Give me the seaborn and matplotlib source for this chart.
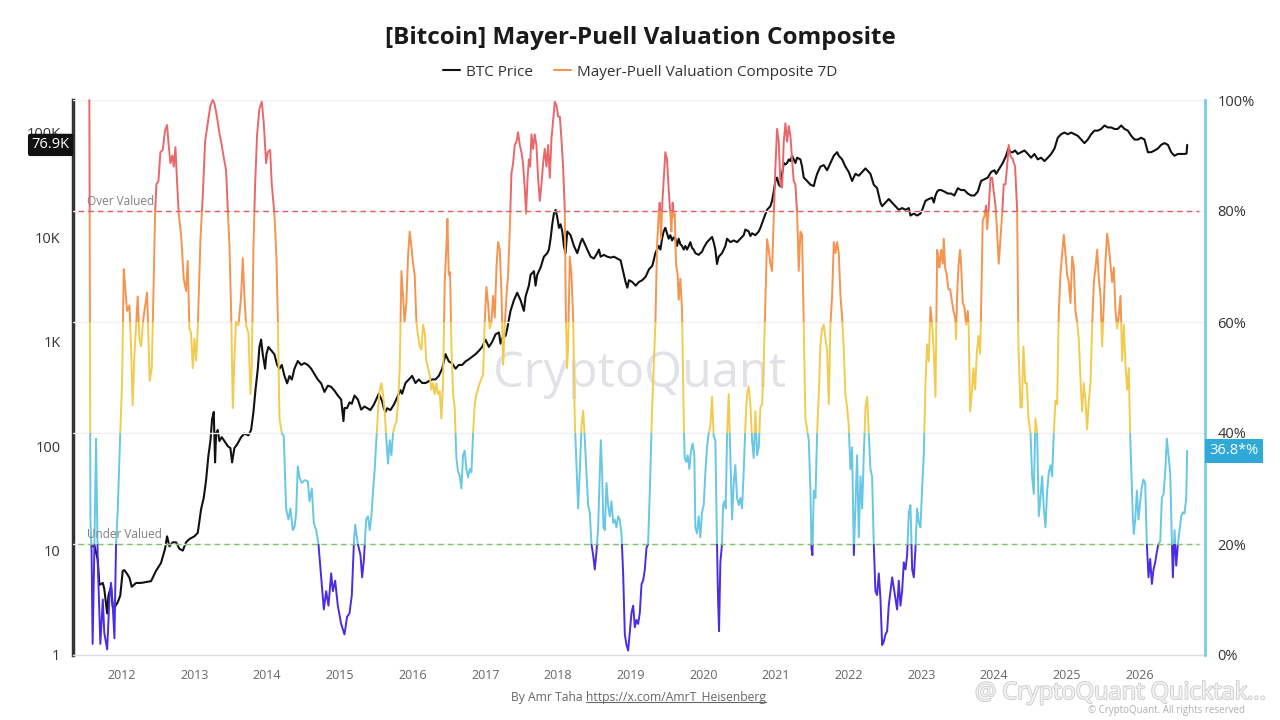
import numpy as np
import pandas as pd
import seaborn as sns
import matplotlib
matplotlib.use("Agg")
import matplotlib.pyplot as plt
from matplotlib.patches import Rectangle
from matplotlib.lines import Line2D
from matplotlib.ticker import FixedLocator, NullLocator, FixedFormatter
import matplotlib.patheffects as pe
import matplotlib.transforms as mtransforms

# BTC price (USD), dates as decimal years
price_years = [
    2011.60, 2011.624, 2011.67, 2011.693, 2011.74, 2011.76, 2011.80, 2011.817, 2011.853, 2011.876,
    2011.908, 2011.945, 2011.98, 2012.014, 2012.037, 2012.073, 2012.106, 2012.138, 2012.197, 2012.266,
    2012.335, 2012.404, 2012.472, 2012.54, 2012.596, 2012.624, 2012.656, 2012.702, 2012.748, 2012.794,
    2012.84, 2012.885, 2012.931, 2013.0, 2013.046, 2013.092, 2013.128, 2013.16, 2013.193, 2013.22,
    2013.243, 2013.266, 2013.284, 2013.298, 2013.321, 2013.344, 2013.376, 2013.413, 2013.459, 2013.495,
    2013.518, 2013.55, 2013.587, 2013.642, 2013.688, 2013.743, 2013.78, 2013.812, 2013.84, 2013.872,
    2013.894, 2013.917, 2013.94, 2013.972, 2013.99, 2014.018, 2014.055, 2014.10, 2014.138, 2014.17,
    2014.202, 2014.239, 2014.275, 2014.307, 2014.34, 2014.376, 2014.422, 2014.468, 2014.514, 2014.56,
    2014.606, 2014.651, 2014.697, 2014.743, 2014.789, 2014.835, 2014.881, 2014.927, 2014.972, 2015.018,
    2015.05, 2015.064, 2015.10, 2015.133, 2015.165, 2015.202, 2015.248, 2015.294, 2015.34, 2015.376,
    2015.42, 2015.468, 2015.513, 2015.536, 2015.56, 2015.582, 2015.605, 2015.628, 2015.651, 2015.697,
    2015.743, 2015.789, 2015.835, 2015.857, 2015.903, 2015.95, 2015.995, 2016.04, 2016.087, 2016.133,
    2016.18, 2016.225, 2016.27, 2016.316, 2016.362, 2016.408, 2016.454, 2016.477, 2016.5, 2016.546,
    2016.591, 2016.637, 2016.683, 2016.729, 2016.775, 2016.82, 2016.867, 2016.913, 2016.958, 2017.004,
    2017.05, 2017.096, 2017.142, 2017.188, 2017.211, 2017.234, 2017.28, 2017.302, 2017.348, 2017.394,
    2017.44, 2017.486, 2017.532, 2017.555, 2017.60, 2017.624, 2017.67, 2017.692, 2017.715, 2017.761,
    2017.807, 2017.853, 2017.876, 2017.899, 2017.922, 2017.945, 2017.968, 2017.99, 2018.014, 2018.036,
    2018.06, 2018.082, 2018.105, 2018.128, 2018.174, 2018.22, 2018.266, 2018.312, 2018.335, 2018.358,
    2018.403, 2018.45, 2018.495, 2018.54, 2018.564, 2018.587, 2018.633, 2018.679, 2018.725, 2018.77,
    2018.816, 2018.862, 2018.885, 2018.93, 2018.954, 2018.977, 2019.023, 2019.069, 2019.114, 2019.16,
    2019.206, 2019.252, 2019.298, 2019.317, 2019.34, 2019.363, 2019.386, 2019.41, 2019.432, 2019.454,
    2019.477, 2019.50, 2019.523, 2019.546, 2019.57, 2019.592, 2019.615, 2019.638, 2019.661, 2019.684,
    2019.707, 2019.73, 2019.753, 2019.776, 2019.80, 2019.821, 2019.844, 2019.867, 2019.89, 2019.936,
    2019.959, 2019.982, 2020.005, 2020.05, 2020.097, 2020.12, 2020.142, 2020.165, 2020.188, 2020.211,
    2020.234, 2020.257, 2020.303, 2020.326, 2020.372, 2020.418, 2020.464, 2020.51, 2020.555, 2020.578,
    2020.624, 2020.647, 2020.67, 2020.716, 2020.762, 2020.785, 2020.83, 2020.876, 2020.922, 2020.945,
    2020.968, 2020.991, 2021.014, 2021.037, 2021.06, 2021.083, 2021.106, 2021.129, 2021.152, 2021.175,
    2021.198, 2021.22, 2021.243, 2021.266, 2021.29, 2021.335, 2021.358, 2021.381, 2021.427, 2021.473,
    2021.519, 2021.542, 2021.565, 2021.61, 2021.656, 2021.702, 2021.748, 2021.794, 2021.84, 2021.863,
    2021.909, 2021.954, 2022.0, 2022.046, 2022.092, 2022.138, 2022.184, 2022.23, 2022.275, 2022.298,
    2022.344, 2022.39, 2022.436, 2022.459, 2022.505, 2022.55, 2022.597, 2022.642, 2022.688, 2022.734,
    2022.78, 2022.826, 2022.849, 2022.895, 2022.94, 2022.986, 2023.01, 2023.055, 2023.10, 2023.147,
    2023.17, 2023.193, 2023.216, 2023.239, 2023.27, 2023.316, 2023.362, 2023.407, 2023.453, 2023.50,
    2023.545, 2023.59, 2023.637, 2023.683, 2023.729, 2023.775, 2023.82, 2023.866, 2023.912, 2023.958,
    2024.004, 2024.027, 2024.073, 2024.118, 2024.164, 2024.196, 2024.224, 2024.256, 2024.288, 2024.325,
    2024.37, 2024.417, 2024.463, 2024.508, 2024.554, 2024.60, 2024.646, 2024.692, 2024.738, 2024.784,
    2024.83, 2024.875, 2024.921, 2024.967, 2025.013, 2025.059, 2025.105, 2025.15, 2025.197, 2025.242,
    2025.288, 2025.334, 2025.38, 2025.426, 2025.472, 2025.518, 2025.564, 2025.61, 2025.655, 2025.70,
    2025.747, 2025.793, 2025.839, 2025.885, 2025.93, 2025.976, 2026.022, 2026.068, 2026.114, 2026.16,
    2026.206, 2026.252, 2026.297, 2026.343, 2026.39, 2026.435, 2026.48, 2026.527, 2026.573, 2026.618,
    2026.646, 2026.655,
]
price_usd = [
    11, 11.2, 8.2, 4.7, 4.9, 4.3, 2.5, 3.7, 4.5, 2.9,
    2.9, 3.2, 3.7, 6.4, 6.5, 6.0, 5.5, 4.5, 4.9, 4.9,
    5.0, 5.1, 6.4, 7.6, 10.4, 13.7, 11, 12, 12, 10.4,
    10, 12, 12.9, 13.7, 14.8, 25, 32, 47, 82, 112,
    182, 213, 70, 132, 143, 112, 122, 112, 100, 96,
    70, 96, 104, 122, 132, 127, 143, 213, 346, 553,
    891, 1050, 760, 553, 760, 891, 830, 760, 600, 553,
    600, 470, 400, 470, 435, 553, 655, 600, 625, 600,
    553, 490, 435, 400, 331, 380, 370, 340, 306, 280,
    174, 232, 232, 263, 255, 306, 280, 224, 240, 232,
    222, 250, 293, 318, 293, 270, 231, 213, 231, 222,
    250, 293, 344, 318, 403, 436, 472, 403, 436, 403,
    403, 420, 436, 436, 472, 553, 762, 700, 649, 620,
    553, 600, 600, 649, 680, 720, 762, 820, 893, 1047,
    893, 1000, 1180, 1227, 960, 1090, 1140, 1330, 1977, 2500,
    2950, 2500, 1977, 2720, 3450, 4385, 4750, 3450, 4385, 5140,
    6530, 7063, 7650, 9720, 13360, 17000, 18360, 15660, 12350, 13360,
    11400, 8280, 7063, 11400, 10500, 8280, 7063, 9000, 9720, 9000,
    7650, 6530, 6270, 7063, 7650, 6530, 6800, 6530, 6400, 6530,
    6270, 6025, 5140, 3740, 3300, 3890, 3740, 3450, 3740, 3890,
    4200, 4940, 5350, 6025, 7063, 7650, 8280, 7650, 9720, 11400,
    12350, 10950, 9720, 10500, 9350, 10000, 9720, 8280, 9720, 8600,
    8280, 7650, 8280, 7650, 8280, 9000, 7950, 7650, 7063, 6800,
    7063, 7300, 7950, 9000, 9720, 10100, 9000, 7650, 5560, 6530,
    6800, 7063, 8280, 9720, 9000, 9350, 9000, 9720, 10500, 11900,
    11400, 10300, 10950, 10500, 11400, 12350, 15100, 18360, 19900, 22400,
    27450, 34700, 37400, 32000, 30800, 40650, 51600, 50000, 51600, 55850,
    53800, 60500, 55850, 51600, 58000, 55850, 47650, 37400, 34700, 32000,
    31000, 36000, 40650, 47650, 49300, 44000, 51600, 60500, 65460, 60500,
    55850, 47650, 42300, 34700, 40650, 39000, 42300, 45800, 42300, 40650,
    32000, 29580, 21530, 19900, 21530, 23300, 21530, 19900, 18360, 19100,
    18360, 19100, 16200, 16900, 16200, 16900, 18360, 22400, 23300, 24000,
    21530, 25200, 27450, 28400, 28400, 27450, 26300, 26300, 25200, 29580,
    28400, 28400, 26300, 25200, 25200, 27450, 34700, 36000, 37400, 42300,
    44000, 40650, 45800, 51600, 60500, 70950, 65460, 65460, 68000, 63000,
    65460, 68000, 63000, 58000, 63000, 55850, 58000, 53800, 58000, 63000,
    70950, 90000, 97300, 101000, 97300, 101000, 97300, 94000, 86500, 80000,
    86500, 97300, 105400, 105400, 109300, 118000, 113000, 113000, 109300, 109300,
    118000, 109300, 105400, 94000, 86500, 86500, 90000, 86500, 65460, 65460,
    68000, 70950, 77000, 80000, 77000, 65460, 60500, 63000, 63000, 63000,
    63500, 76900,
]

# Mayer-Puell Valuation Composite 7D (%)
mpvc_years = [
    2011.555, 2011.57, 2011.585, 2011.60, 2011.625, 2011.647, 2011.67, 2011.706, 2011.74, 2011.76,
    2011.80, 2011.83, 2011.853, 2011.876, 2011.90, 2011.922, 2011.945, 2011.98, 2012.005, 2012.028,
    2012.046, 2012.073, 2012.106, 2012.128, 2012.151, 2012.174, 2012.197, 2012.22, 2012.243, 2012.266,
    2012.289, 2012.312, 2012.349, 2012.367, 2012.385, 2012.413, 2012.431, 2012.459, 2012.477, 2012.505,
    2012.532, 2012.564, 2012.596, 2012.624, 2012.642, 2012.67, 2012.697, 2012.716, 2012.739, 2012.761,
    2012.784, 2012.817, 2012.853, 2012.885, 2012.908, 2012.931, 2012.954, 2012.977, 2013.0, 2013.023,
    2013.046, 2013.083, 2013.115, 2013.147, 2013.183, 2013.22, 2013.252, 2013.275, 2013.312, 2013.344,
    2013.367, 2013.404, 2013.436, 2013.459, 2013.482, 2013.505, 2013.528, 2013.55, 2013.573, 2013.606,
    2013.642, 2013.665, 2013.688, 2013.711, 2013.743, 2013.771, 2013.789, 2013.812, 2013.835, 2013.862,
    2013.894, 2013.927, 2013.954, 2013.986, 2014.009, 2014.041, 2014.064, 2014.10, 2014.128, 2014.147,
    2014.17, 2014.202, 2014.229, 2014.261, 2014.294, 2014.321, 2014.353, 2014.376, 2014.399, 2014.422,
    2014.445, 2014.477, 2014.514, 2014.56, 2014.583, 2014.615, 2014.642, 2014.674, 2014.706, 2014.743,
    2014.78, 2014.812, 2014.844, 2014.881, 2014.904, 2014.936, 2014.972, 2015.018, 2015.064, 2015.10,
    2015.133, 2015.165, 2015.193, 2015.211, 2015.248, 2015.284, 2015.307, 2015.33, 2015.362, 2015.388,
    2015.411, 2015.434, 2015.457, 2015.48, 2015.503, 2015.525, 2015.548, 2015.571, 2015.594, 2015.617,
    2015.64, 2015.663, 2015.686, 2015.709, 2015.732, 2015.755, 2015.778, 2015.80, 2015.824, 2015.847,
    2015.87, 2015.89, 2015.915, 2015.938, 2015.961, 2015.984, 2016.007, 2016.03, 2016.053, 2016.076,
    2016.099, 2016.122, 2016.145, 2016.168, 2016.19, 2016.214, 2016.236, 2016.259, 2016.282, 2016.305,
    2016.328, 2016.351, 2016.374, 2016.397, 2016.42, 2016.443, 2016.466, 2016.48, 2016.498, 2016.516,
    2016.535, 2016.558, 2016.58, 2016.603, 2016.626, 2016.649, 2016.672, 2016.695, 2016.718, 2016.741,
    2016.764, 2016.787, 2016.81, 2016.833, 2016.856, 2016.879, 2016.925, 2016.947, 2016.97, 2016.993,
    2017.016, 2017.039, 2017.062, 2017.085, 2017.108, 2017.131, 2017.154, 2017.177, 2017.20, 2017.223,
    2017.246, 2017.269, 2017.292, 2017.314, 2017.337, 2017.36, 2017.383, 2017.406, 2017.429, 2017.452,
    2017.475, 2017.498, 2017.52, 2017.544, 2017.562, 2017.58, 2017.60, 2017.617, 2017.636, 2017.658,
    2017.681, 2017.704, 2017.727, 2017.75, 2017.773, 2017.796, 2017.819, 2017.842, 2017.865, 2017.888,
    2017.911, 2017.934, 2017.957, 2017.98, 2018.003, 2018.026, 2018.048, 2018.071, 2018.094, 2018.108,
    2018.126, 2018.14, 2018.163, 2018.186, 2018.209, 2018.232, 2018.255, 2018.278, 2018.30, 2018.324,
    2018.347, 2018.37, 2018.392, 2018.415, 2018.438, 2018.461, 2018.484, 2018.507, 2018.53, 2018.553,
    2018.576, 2018.59, 2018.608, 2018.626, 2018.645, 2018.668, 2018.69, 2018.713, 2018.736, 2018.76,
    2018.782, 2018.805, 2018.828, 2018.85, 2018.874, 2018.897, 2018.92, 2018.943, 2018.966, 2018.989,
    2019.012, 2019.035, 2019.058, 2019.08, 2019.103, 2019.126, 2019.15, 2019.172, 2019.195, 2019.218,
    2019.24, 2019.264, 2019.294, 2019.317, 2019.34, 2019.363, 2019.386, 2019.40, 2019.418, 2019.436,
    2019.454, 2019.477, 2019.50, 2019.523, 2019.546, 2019.56, 2019.578, 2019.592, 2019.606, 2019.624,
    2019.647, 2019.661, 2019.684, 2019.707, 2019.73, 2019.743, 2019.766, 2019.785, 2019.808, 2019.83,
    2019.854, 2019.876, 2019.89, 2019.913, 2019.936, 2019.959, 2019.982, 2020.005, 2020.028, 2020.05,
    2020.074, 2020.097, 2020.12, 2020.142, 2020.165, 2020.188, 2020.202, 2020.216, 2020.234, 2020.257,
    2020.271, 2020.29, 2020.308, 2020.326, 2020.349, 2020.372, 2020.395, 2020.418, 2020.44, 2020.464,
    2020.487, 2020.51, 2020.532, 2020.555, 2020.578, 2020.601, 2020.624, 2020.647, 2020.67, 2020.693,
    2020.716, 2020.739, 2020.762, 2020.785, 2020.808, 2020.83, 2020.853, 2020.876, 2020.90, 2020.922,
    2020.945, 2020.968, 2020.991, 2021.014, 2021.037, 2021.06, 2021.083, 2021.106, 2021.129, 2021.152,
    2021.175, 2021.198, 2021.22, 2021.243, 2021.266, 2021.29, 2021.312, 2021.335, 2021.358, 2021.381,
    2021.404, 2021.427, 2021.45, 2021.473, 2021.487, 2021.50, 2021.519, 2021.542, 2021.565, 2021.588,
    2021.61, 2021.633, 2021.656, 2021.68, 2021.702, 2021.725, 2021.748, 2021.771, 2021.794, 2021.817,
    2021.84, 2021.863, 2021.886, 2021.909, 2021.932, 2021.954, 2021.977, 2022.0, 2022.023, 2022.046,
    2022.07, 2022.092, 2022.115, 2022.138, 2022.161, 2022.184, 2022.207, 2022.23, 2022.253, 2022.275,
    2022.298, 2022.321, 2022.344, 2022.367, 2022.39, 2022.413, 2022.436, 2022.459, 2022.482, 2022.505,
    2022.528, 2022.55, 2022.574, 2022.597, 2022.62, 2022.642, 2022.665, 2022.688, 2022.711, 2022.734,
    2022.757, 2022.78, 2022.803, 2022.826, 2022.849, 2022.872, 2022.895, 2022.918, 2022.94, 2022.964,
    2022.986, 2023.01, 2023.032, 2023.055, 2023.078, 2023.10, 2023.124, 2023.147, 2023.17, 2023.193,
    2023.216, 2023.239, 2023.247, 2023.27, 2023.293, 2023.307, 2023.325, 2023.348, 2023.371, 2023.394,
    2023.417, 2023.44, 2023.463, 2023.476, 2023.49, 2023.508, 2023.531, 2023.545, 2023.568, 2023.591,
    2023.614, 2023.637, 2023.65, 2023.669, 2023.692, 2023.715, 2023.738, 2023.761, 2023.784, 2023.807,
    2023.82, 2023.843, 2023.866, 2023.889, 2023.903, 2023.921, 2023.949, 2023.972, 2023.995, 2024.018,
    2024.04, 2024.063, 2024.086, 2024.11, 2024.132, 2024.155, 2024.178, 2024.20, 2024.224, 2024.256,
    2024.288, 2024.316, 2024.334, 2024.362, 2024.38, 2024.403, 2024.426, 2024.449, 2024.472, 2024.50,
    2024.522, 2024.545, 2024.568, 2024.591, 2024.614, 2024.637, 2024.66, 2024.683, 2024.706, 2024.729,
    2024.752, 2024.775, 2024.797, 2024.82, 2024.843, 2024.866, 2024.889, 2024.912, 2024.935, 2024.958,
    2024.98, 2025.004, 2025.027, 2025.05, 2025.073, 2025.096, 2025.118, 2025.141, 2025.164, 2025.187,
    2025.21, 2025.233, 2025.256, 2025.279, 2025.302, 2025.325, 2025.348, 2025.371, 2025.394, 2025.417,
    2025.44, 2025.463, 2025.485, 2025.508, 2025.531, 2025.554, 2025.577, 2025.60, 2025.623, 2025.646,
    2025.669, 2025.692, 2025.715, 2025.738, 2025.76, 2025.784, 2025.806, 2025.83, 2025.852, 2025.87,
    2025.884, 2025.907, 2025.92, 2025.94, 2025.963, 2025.985, 2026.008, 2026.031, 2026.054, 2026.077,
    2026.10, 2026.123, 2026.146, 2026.169, 2026.192, 2026.215, 2026.238, 2026.26, 2026.284, 2026.307,
    2026.33, 2026.352, 2026.375, 2026.398, 2026.421, 2026.444, 2026.458, 2026.481, 2026.504, 2026.527,
    2026.55, 2026.573, 2026.596, 2026.618, 2026.642, 2026.655,
]
mpvc_pct = [
    100, 24, 19, 2, 20, 39, 17, 2, 10, 4,
    1, 10, 13, 9, 3, 20, 26, 40, 49, 69.5,
    66.6, 62, 63, 55.6, 45, 54, 59, 64.6, 57, 55.6,
    59.5, 62, 65.3, 57, 49.4, 51.7, 62, 79.5, 84.8, 85.4,
    90.6, 91, 94.5, 95.5, 92.5, 88.6, 90, 88, 91.5, 85.4,
    79.5, 75.7, 67.8, 65.6, 71, 58.8, 58, 51.7, 57, 53,
    58.8, 75, 82.8, 92.5, 95.8, 99, 100, 99.4, 96.8, 94,
    92.5, 89.6, 87.3, 80.2, 73.8, 62, 44.5, 53.6, 60, 59.4,
    64.6, 71.5, 64.6, 59.4, 58, 47, 52, 73.7, 84.8, 93.8,
    98.4, 99.7, 95.8, 88.6, 90.6, 91, 84.8, 79.5, 71.8, 60.8,
    42.6, 40, 39.4, 26.4, 24.4, 26.4, 22.5, 23, 25.5, 34,
    32, 31, 31.5, 31.3, 27.7, 30, 23.8, 22.5, 20, 14,
    8.2, 11.5, 8.9, 14.7, 11.5, 13.4, 8.9, 5.6, 3.7, 6.9,
    7.5, 10.8, 20, 23.5, 20, 18, 14, 17, 24.4, 25,
    22.5, 25, 29.6, 33.5, 38.7, 43.9, 47.8, 49, 47, 44,
    38.7, 34.5, 38.7, 36, 40, 41.3, 42, 45.2, 51.7, 69.2,
    64.7, 60, 63.4, 71.8, 76.3, 73.7, 70.5, 68.5, 60, 57.5,
    55.6, 55, 59.5, 58, 53, 51.7, 50.4, 47.8, 49, 47,
    49, 47, 47.5, 42.6, 49, 67.3, 73.7, 78.6, 68.5, 69,
    55.6, 47, 44.6, 35.5, 33, 32.3, 30, 36, 36.8, 33.5,
    32, 33.5, 32.9, 40, 45.2, 47, 49, 49.8, 50.4, 60,
    66.3, 63.4, 58.8, 60, 64.7, 60.8, 69.8, 74.4, 73, 65.3,
    52.3, 59.5, 64.7, 68.5, 76.3, 86.7, 88.6, 91.9, 92.5, 94.2,
    91.9, 90.6, 88.6, 84, 79.5, 85.4, 89.3, 88, 93.8, 91.2,
    93.8, 91.9, 86, 81.8, 84.8, 88.6, 91.2, 88, 91.9, 86,
    93, 96.4, 99.7, 99, 97, 97, 93, 88, 80.2, 62,
    51.7, 55.6, 71.8, 68.5, 60.8, 42, 34.2, 26.4, 32.9, 41.3,
    44, 38.7, 32.9, 27, 25.7, 20, 18, 15.4, 18.6, 23,
    32.9, 38.7, 32.9, 23, 22.5, 31, 27, 25, 27.7, 23.8,
    24.4, 23, 25, 24.4, 21.8, 14.7, 3.7, 1.8, 0.8, 4.3,
    7.6, 8.9, 5, 6.3, 5.6, 7.6, 12.8, 13.4, 15.4, 19.3,
    20, 29.6, 44, 51.7, 59.5, 73.7, 79.5, 81.5, 75, 81.5,
    85.4, 90.6, 89.3, 84, 79.5, 76.3, 81.5, 79, 79.5, 70.5,
    68.5, 64, 67.8, 62, 42.6, 35.5, 34.8, 36, 33.5, 36.8,
    38.1, 36, 23, 21.9, 25, 21.2, 25.7, 27, 32.9, 37.4,
    40, 41.3, 46.5, 39.4, 38.7, 20, 10.2, 4.3, 16.7, 20,
    27, 27.7, 26.4, 39.4, 47, 36, 24.4, 31, 34.2, 28.3,
    27, 28.3, 26.4, 33, 41.3, 47, 48.4, 45.2, 38.7, 35.5,
    43.9, 36, 37.4, 44.6, 45.2, 52.3, 63.4, 74.9, 73, 70.5,
    69.2, 78.3, 88, 94.8, 92.5, 84.8, 84.2, 92.5, 95.8, 92.5,
    95.3, 93.5, 89.3, 85.4, 84.8, 79.5, 69.2, 76.3, 75.7, 58.8,
    42.6, 40.7, 38.7, 29.6, 19.3, 18, 29.6, 28.3, 40, 47,
    56, 58.8, 59.5, 57, 55, 45.2, 59.5, 64.7, 74.4, 72.4,
    74.4, 72.4, 64.7, 60.8, 55, 47, 44.6, 41.3, 33.5, 37.4,
    18, 27, 36, 21.2, 32.2, 26.4, 36, 44.6, 46.5, 40,
    33.5, 32.2, 20, 11.5, 10.8, 14.7, 10.2, 1.8, 2.4, 3.7,
    4.3, 8.9, 11.5, 14, 12.1, 10.2, 8.2, 13.4, 8.9, 11.5,
    16.7, 15.4, 18, 25.7, 27, 15.4, 14, 19.3, 26.4, 23.8,
    23, 30.3, 36, 49, 56, 52.9, 62.7, 59.5, 54.3, 46.5,
    73, 71, 69.8, 73, 70.5, 75, 69.8, 68.5, 65.9, 65.9,
    64, 62, 60.8, 56.9, 64.7, 69.8, 73, 70.5, 63.4, 62.7,
    59.5, 62, 58.8, 43.9, 47, 51.7, 47.8, 54.3, 57.5, 54.3,
    62, 78.3, 79, 81, 76.7, 79.5, 86, 86, 83.4, 81,
    76.3, 70.5, 75, 79.5, 84.8, 84.8, 88, 91.9, 89.9, 89.3,
    88, 80.2, 55.6, 44.6, 44.6, 55.6, 49, 49, 42.6, 40,
    32.2, 29, 42.6, 40, 25, 28.3, 32.2, 26.4, 23, 29.6,
    32.9, 34.2, 32.2, 40, 45.8, 45.2, 62, 68.5, 72.4, 75.7,
    72.4, 68.5, 67.2, 63.4, 71.8, 69.8, 62, 60, 56.9, 49.8,
    43.9, 49, 45.8, 40.7, 45.8, 49, 59.5, 67.2, 69.8, 73,
    67.8, 64.7, 55.6, 63.4, 71, 75.9, 73.6, 70.5, 67.2, 69.8,
    62, 58.8, 61.3, 64.7, 53, 59.5, 52.3, 47.8, 51.7, 40,
    34.2, 25, 21.8, 24.4, 29.6, 24.4, 27.5, 30.3, 31.6, 31,
    20, 14, 17.3, 12.8, 15.4, 16.7, 18.6, 20, 20.5, 28.3,
    29, 32.9, 39, 36, 32.9, 20.6, 14, 22.5, 16.1, 20,
    22.5, 25, 25.7, 25.5, 28.3, 36.8,
]

year_ticks = list(range(2012, 2027))
price_ticks = [1, 10, 100, 1000, 10000, 100000]
price_tick_labels = ["1", "10", "100", "1K", "10K", "100K"]
pct_ticks = [0, 20, 40, 60, 80, 100]

# colour zones of the composite line: (low, high, colour)
zones = [(-10, 20, "#4a2ce6"), (20, 40, "#68c7e6"), (40, 60, "#f2cb4e"),
         (60, 80, "#f4944f"), (80, 120, "#e8686a")]

price_df = pd.DataFrame({"year": price_years, "price": price_usd})
mpvc_df = pd.DataFrame({"year": mpvc_years, "pct": mpvc_pct})

sns.set_style("white")
plt.rcParams["font.family"] = ["Open Sans", "DejaVu Sans"]

fig = plt.figure(figsize=(12.8, 7.2), dpi=100)
ax = fig.add_axes([73 / 1280, 65 / 720, 1132 / 1280, 555 / 720])
ax2 = ax.twinx()

# watermark behind everything
ax.text(0.5, 0.505, "CryptoQuant", transform=ax.transAxes, ha="center", va="center",
        fontsize=35, color="#e1e1e8", zorder=0)

sns.lineplot(data=price_df, x="year", y="price", ax=ax, color="#111111", lw=1.5,
             estimator=None, sort=False, zorder=3)
ax.set_yscale("log")
ax.set_ylim(1, 10 ** 5.316)
ax.set_xlim(2011.33, 2026.9)
ax.yaxis.set_major_locator(FixedLocator(price_ticks))
ax.yaxis.set_major_formatter(FixedFormatter(price_tick_labels))
ax.yaxis.set_minor_locator(NullLocator())
ax.set_xticks(year_ticks)
ax.set_xticklabels([str(y) for y in year_ticks])
ax.set_xlabel("")
ax.set_ylabel("")
ax.tick_params(axis="y", length=0, pad=9, labelsize=10.5, labelcolor="#333333")
ax.tick_params(axis="x", length=7, width=1, color="#ccd6eb", labelcolor="#666666",
               labelsize=9, pad=3)
for side in ["top", "right"]:
    ax.spines[side].set_visible(False)
ax.spines["left"].set_color("#333333")
ax.spines["left"].set_linewidth(2.5)
ax.spines["bottom"].set_color("#d8dde8")
ax.spines["bottom"].set_linewidth(1)

# composite line, one pass per colour zone, clipped to its band
for lo, hi, col in zones:
    sns.lineplot(data=mpvc_df, x="year", y="pct", ax=ax2, color=col, lw=1.4,
                 estimator=None, sort=False)
    band = Rectangle((2000, lo), 40, hi - lo, transform=ax2.transData)
    ax2.lines[-1].set_clip_path(band)

ax2.set_ylim(0, 100)
ax2.set_yticks(pct_ticks)
ax2.set_yticklabels([f"{p}%" for p in pct_ticks])
ax2.set_ylabel("")
ax2.tick_params(axis="y", length=0, pad=9, labelsize=10.5, labelcolor="#333333")
ax2.grid(axis="y", color="#f0f0f0", lw=1)
ax2.set_axisbelow(True)
for side in ["top", "left", "bottom"]:
    ax2.spines[side].set_visible(False)
ax2.spines["right"].set_color("#77cde8")
ax2.spines["right"].set_linewidth(2)

# valuation thresholds
ax2.axhline(80, xmin=0.004, xmax=0.995, color="#df5f5f", lw=1, ls=(0, (4, 3)))
ax2.axhline(20, xmin=0.004, xmax=0.995, color="#7fc46a", lw=1, ls=(0, (4, 3)))
ax2.text(2011.52, 80.6, "Over Valued", color="#808080", fontsize=8.5, va="bottom")
ax2.text(2011.52, 20.6, "Under Valued", color="#808080", fontsize=8.5, va="bottom")

# last value labels
left_tr = mtransforms.blended_transform_factory(ax.transAxes, ax.transData)
ax.text(-0.003, price_usd[-1], "76.9K", transform=left_tr, ha="right", va="center",
        color="white", fontsize=10.5, zorder=5,
        bbox=dict(boxstyle="round,pad=0.25,rounding_size=0.15", fc="#111111", ec="none"))
right_tr = mtransforms.blended_transform_factory(ax2.transAxes, ax2.transData)
ax2.text(1.004, mpvc_pct[-1], "36.8*%", transform=right_tr, ha="left", va="center",
         color="white", fontsize=10.5, zorder=5, clip_on=False,
         bbox=dict(boxstyle="square,pad=0.3", fc="#2fa9d8", ec="none"))

# title and legend
fig.text(0.5, 1 - 38 / 720, "[Bitcoin] Mayer-Puell Valuation Composite", ha="center",
         va="center", fontsize=17.5, weight="bold", color="#1a1a1a")
handles = [Line2D([], [], color="#111111", lw=1.5), Line2D([], [], color="#f4944f", lw=1.5)]
fig.legend(handles, ["BTC Price", "Mayer-Puell Valuation Composite 7D"], loc="center",
           bbox_to_anchor=(0.5, 1 - 72 / 720), ncol=2, frameon=False, fontsize=11,
           handlelength=1.1, handletextpad=0.4, columnspacing=1.4, labelcolor="#333333")

# footer
fig.text(583 / 1280, 1 - 697 / 720, "By Amr Taha", ha="right", va="center", fontsize=8.7,
         color="#666666")
url = fig.text(586 / 1280, 1 - 697 / 720, "https://x.com/AmrT_Heisenberg", ha="left",
               va="center", fontsize=8.7, color="#666666")
fig.canvas.draw()
bb = url.get_window_extent().transformed(fig.transFigure.inverted())
fig.add_artist(Line2D([bb.x0, bb.x1], [bb.y0 + 0.002, bb.y0 + 0.002], color="#666666",
                      lw=0.8, transform=fig.transFigure))

fig.text(975 / 1280, 1 - 693 / 720, "@ CryptoQuant Quicktak...", ha="left", va="center",
         fontsize=17, color="#f4f4f4",
         path_effects=[pe.withStroke(linewidth=1.3, foreground="#cccccc")])
fig.text(1088 / 1280, 1 - 711 / 720, "© CryptoQuant. All rights reserved", ha="left",
         va="center", fontsize=7, color="#b0b0b0")

fig.savefig("out.png", dpi=100)
